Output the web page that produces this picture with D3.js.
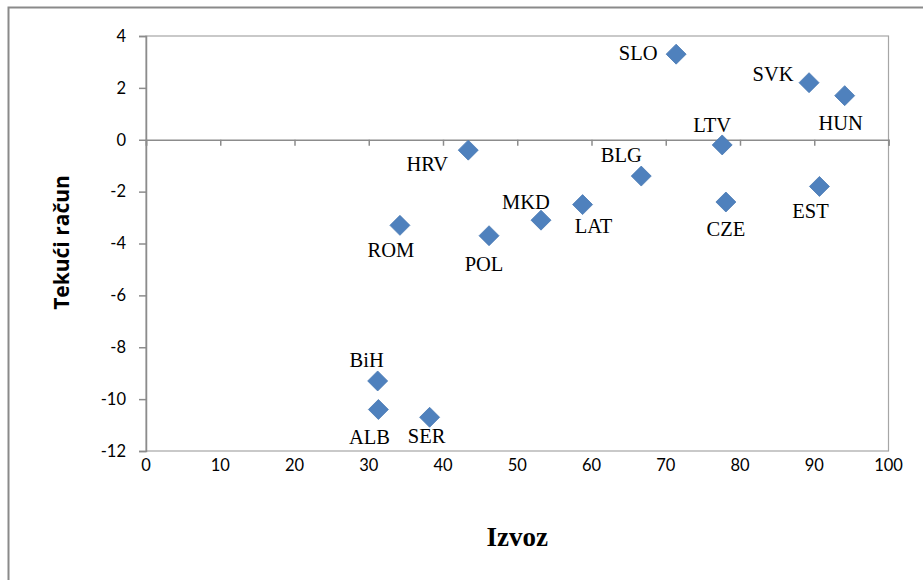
<!DOCTYPE html>
<html>
<head>
<meta charset="utf-8">
<script src="https://cdn.jsdelivr.net/npm/d3@7"></script>
<style>
  html, body { margin: 0; padding: 0; background: #fff; }
  svg { display: block; }
</style>
</head>
<body>
<svg id="chart" width="923" height="580"></svg>
<script>
// Country codes with export share (Izvoz) and current account balance (Tekući račun)
const countries = ["SLO", "SVK", "HUN", "LTV", "HRV", "BLG", "EST", "CZE", "LAT", "MKD", "ROM", "POL", "BiH", "ALB", "SER"];
const izvoz     = [71.4, 89.3, 94.1, 77.6, 43.4, 66.7, 90.7, 78.1, 58.8, 53.2, 34.2, 46.2, 31.2, 31.3, 38.2];
const tekuci    = [3.3, 2.2, 1.7, -0.2, -0.4, -1.4, -1.8, -2.4, -2.5, -3.1, -3.3, -3.7, -9.3, -10.4, -10.7];

const xTicks = [0, 10, 20, 30, 40, 50, 60, 70, 80, 90, 100];
const yTicks = [4, 2, 0, -2, -4, -6, -8, -10, -12];

// Label placement relative to each marker (centre x offset, baseline offset)
const labelOffset = {
  SLO: [-38, 6], SVK: [-36, -2], HUN: [-4, 34], LTV: [-10, -13],
  HRV: [-41, 21], BLG: [-20, -14], EST: [-9, 32], CZE: [0, 34],
  LAT: [11, 28], MKD: [-15, -11], ROM: [-9, 32], POL: [-5, 35],
  BiH: [-11, -14], ALB: [-9, 34], SER: [-3, 26]
};

const data = countries.map((c, i) => ({ name: c, x: izvoz[i], y: tekuci[i] }));

const svg = d3.select("#chart");
const plot = { left: 146, right: 888.5, top: 36, bottom: 451 };

const x = d3.scaleLinear().domain([0, 100]).range([plot.left, plot.right]);
const y = d3.scaleLinear().domain([-12, 4]).range([plot.bottom, plot.top]);

const grey = "#8c8c8c";
const tickFont = "Lato, 'Open Sans', sans-serif";

// Outer chart frame
svg.append("rect")
  .attr("x", 8.5).attr("y", 7.5)
  .attr("width", 940).attr("height", 600)
  .attr("fill", "none").attr("stroke", "#8a8a8a").attr("stroke-width", 2);

// Plot area border
svg.append("rect")
  .attr("x", plot.left).attr("y", plot.top)
  .attr("width", plot.right - plot.left).attr("height", plot.bottom - plot.top)
  .attr("fill", "none").attr("stroke", "#a6a6a6").attr("stroke-width", 1.2);

// Vertical axis with outward ticks
const yAxis = svg.append("g")
  .attr("transform", `translate(${plot.left},0)`)
  .call(d3.axisLeft(y).tickValues(yTicks).tickSize(7).tickPadding(13).tickFormat(d => String(d)));
yAxis.select(".domain").attr("stroke", grey).attr("stroke-width", 1.5);
yAxis.selectAll(".tick line").attr("stroke", grey).attr("stroke-width", 1.5);
yAxis.selectAll(".tick text")
  .attr("fill", "#000")
  .style("font-family", tickFont)
  .style("font-size", "16.5px");

// Horizontal axis crossing at zero, ticks pointing down
const xAxis = svg.append("g")
  .attr("transform", `translate(0,${y(0)})`)
  .call(d3.axisBottom(x).tickValues(xTicks).tickSize(6).tickFormat(""));
xAxis.select(".domain").attr("stroke", grey).attr("stroke-width", 1.5);
xAxis.selectAll(".tick line").attr("stroke", grey).attr("stroke-width", 1.5);

// Tick labels for the horizontal axis sit below the plot area
svg.append("g").selectAll("text")
  .data(xTicks)
  .join("text")
  .attr("x", d => x(d))
  .attr("y", plot.bottom + 20)
  .attr("text-anchor", "middle")
  .attr("fill", "#000")
  .style("font-family", tickFont)
  .style("font-size", "16.5px")
  .text(d => d);

// Diamond markers
svg.append("g").selectAll("path")
  .data(data)
  .join("path")
  .attr("transform", d => `translate(${x(d.x)},${y(d.y)})`)
  .attr("d", "M0,-10L10,0L0,10L-10,0Z")
  .attr("fill", "#4f81bd")
  .attr("stroke", "#4a7ab4")
  .attr("stroke-width", 0.8);

// Country labels
svg.append("g").selectAll("text")
  .data(data)
  .join("text")
  .attr("x", d => x(d.x) + labelOffset[d.name][0])
  .attr("y", d => y(d.y) + labelOffset[d.name][1])
  .attr("text-anchor", "middle")
  .attr("fill", "#000")
  .style("font-family", "'Liberation Serif', 'Times New Roman', serif")
  .style("font-size", "20.5px")
  .text(d => d.name);

// Axis titles
svg.append("text")
  .attr("x", (plot.left + plot.right) / 2)
  .attr("y", 546)
  .attr("text-anchor", "middle")
  .style("font-family", "'Liberation Serif', 'Times New Roman', serif")
  .style("font-weight", "bold")
  .style("font-size", "27px")
  .text("Izvoz");

svg.append("text")
  .attr("transform", `translate(69,${(plot.top + plot.bottom) / 2 - 1}) rotate(-90)`)
  .attr("text-anchor", "middle")
  .style("font-family", "'Open Sans', sans-serif")
  .style("font-weight", "bold")
  .style("font-size", "21px")
  .text("Tekući račun");
</script>
</body>
</html>
